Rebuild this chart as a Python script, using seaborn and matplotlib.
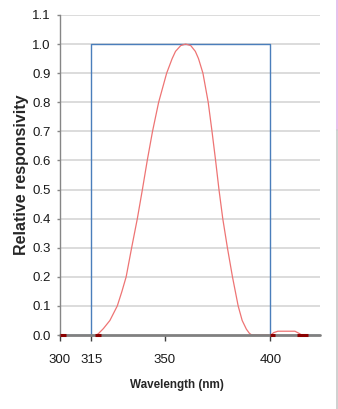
import matplotlib
matplotlib.use("Agg")
import matplotlib.pyplot as plt
import seaborn as sns
import pandas as pd
from matplotlib.lines import Line2D

# ---- data ----
blue_wl = [300, 315, 315, 400, 400, 423]
blue_val = [0.0, 0.0, 1.0, 1.0, 0.0, 0.0]

red_wl = [317.6, 318.5, 320.8, 323.9, 327.4, 329.6, 331.6, 334.2, 336.9, 339.3,
          341.6, 344.1, 347.0, 350.8, 353.4, 355.0, 357.5, 359.8, 362.2, 364.4,
          365.9, 368.0, 370.5, 372.3, 374.0, 375.6, 377.4, 379.6, 382.0, 384.7,
          386.6, 388.6, 390.0, 391.1,
          400.3, 401.5, 403.5, 411.6, 413.5, 414.8]
red_val = [0.0, 0.005, 0.022, 0.05, 0.10, 0.15, 0.20, 0.30, 0.40, 0.50,
           0.60, 0.70, 0.80, 0.90, 0.95, 0.975, 0.995, 1.0, 0.995, 0.975,
           0.95, 0.90, 0.80, 0.70, 0.60, 0.50, 0.40, 0.30, 0.20, 0.10,
           0.05, 0.02, 0.006, 0.0,
           0.0, 0.008, 0.013, 0.013, 0.006, 0.0]

marker_segments = [(300.0, 303.0), (317.0, 319.5), (400.0, 402.0), (412.5, 418.0)]

xticks = [300, 315, 350, 400]
yticks = [0.0, 0.1, 0.2, 0.3, 0.4, 0.5, 0.6, 0.7, 0.8, 0.9, 1.0, 1.1]

sns.set_style("white")
plt.rcParams['font.family'] = ['Liberation Sans', 'DejaVu Sans']

W, H = 338, 409
fig = plt.figure(figsize=(W / 100, H / 100), dpi=100)
ax = fig.add_axes([59.5 / W, (H - 335) / H, (320 - 59.5) / W, (335 - 15) / H])

ax.set_xlim(300, 423.5)
ax.set_ylim(0, 1.1)

for y in yticks[1:]:
    ax.axhline(y, color='#d9d9d9', lw=1.3, zorder=1)

blue_df = pd.DataFrame({'wl': blue_wl, 'val': blue_val})
red_df = pd.DataFrame({'wl': red_wl, 'val': red_val})
sns.lineplot(data=blue_df, x='wl', y='val', ax=ax, color='#4a7ebb', lw=1.0,
             sort=False, estimator=None, zorder=3)
sns.lineplot(data=red_df, x='wl', y='val', ax=ax, color='#ee7474', lw=0.9,
             sort=False, estimator=None, zorder=3)

ax.axhline(0, color='#808080', lw=2.0, zorder=4, clip_on=False)
for a, b in marker_segments:
    ax.plot([a, b], [0, 0], color='#8b0000', lw=2.2, zorder=5, solid_capstyle='butt',
            clip_on=False)

ax.set_xticks(xticks)
ax.set_xticklabels([str(t) for t in xticks])
ax.set_yticks(yticks)
ax.set_yticklabels([f"{t:.1f}" for t in yticks])

for s in ['top', 'right', 'bottom']:
    ax.spines[s].set_visible(False)
ax.spines['left'].set_color('#868686')
ax.spines['left'].set_linewidth(1.0)

ax.tick_params(axis='y', length=2.2, width=1, color='#868686', pad=4, labelsize=9.5,
               labelcolor='#1a1a1a', left=True, direction='out')
ax.tick_params(axis='x', length=4, width=1, color='#404040', pad=10, labelsize=9.5,
               labelcolor='#1a1a1a', bottom=True, direction='out')

ax.set_xlabel('Wavelength (nm)', fontsize=8.4, fontweight='bold')
ax.xaxis.set_label_coords((176.7 - 59.5) / 260.5, (335 - 379) / 320)
ax.set_ylabel('Relative responsivity', fontsize=11.5, fontweight='bold')
ax.yaxis.set_label_coords((29 - 59.5) / 260.5, 0.5)

fig.add_artist(Line2D([336.5 / W, 336.5 / W], [1, 1 - 130 / H], color='#e3b4e6', lw=1.2))
fig.add_artist(Line2D([336.5 / W, 336.5 / W], [1 - 130 / H, 0], color='#c8c8c8', lw=1.2))

fig.savefig('out.png', dpi=100)
